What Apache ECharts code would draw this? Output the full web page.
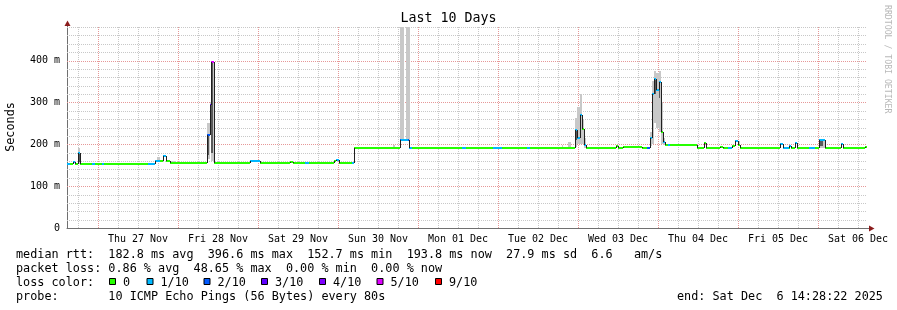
<!DOCTYPE html>
<html><head><meta charset="utf-8">
<script src="https://cdn.jsdelivr.net/npm/echarts@6/dist/echarts.min.js"></script>
<style>html,body{margin:0;padding:0;background:#fff}#c{width:897px;height:310px}</style>
</head><body><div id="c"></div>
<script>
// ---- DATA (time in hours relative to Thu 27 Nov 00:00) ----
const dayLabels = ['Thu 27 Nov','Fri 28 Nov','Sat 29 Nov','Sun 30 Nov','Mon 01 Dec','Tue 02 Dec','Wed 03 Dec','Thu 04 Dec','Fri 05 Dec','Sat 06 Dec'];
const noonHours = [12,36,60,84,108,132,156,180,204,228];
const yTickValues = [0,100,200,300,400];
const yTickLabels = ['0','100 m','200 m','300 m','400 m'];
const X_MIN = -9.3, X_MAX = 230.7, DATA_END = 230.7;

// median rtt segments: start hour, median (ms), lost pings out of 10
const segStart = [-9.3,-8.3,-7.4,-6.8,-5.9,-5.5,-1.7,-0.8,1.3,1.9,
  15.1,17.2,18.7,19.5,20.5,21.7,32.8,33.5,33.9,34.9,
  45.7,48.7,57.7,58.6,62.2,63.4,70.8,71.5,72.3,76.3,
  76.7,90.5,90.8,93.0,93.3,94.3,109.3,110.5,118.6,121.3,
  128.8,129.7,143.2,143.7,144.5,145.3,145.9,146.5,155.5,156.1,
  157.6,163.3,164.8,165.7,166.2,166.9,167.5,168.2,168.9,169.5,
  170.2,171.1,171.7,179.7,181.7,182.4,186.7,187.6,189.1,190.2,
  191.2,192.0,192.7,204.7,205.4,207.2,207.4,208.0,209.0,209.7,
  213.2,215.2,216.4,218.0,222.9,223.5,230.2];
const segValue = [153,153,158,153,180,153,154,153,154,153,
  154,161,159,173,159,155.5,221,293,396,155.5,
  159,155.5,157,155.5,155.5,155.5,160,163,155.5,155.5,
  192,211,211,211,192,192,192,192,192,192,
  192,190.5,233,214,269,236,198,191,196,191,
  193,191,191,214,321,356,329,348,229,205,
  199,199,199,191.5,204,191.5,193,191.5,191.5,196,
  207,199,191.5,201.6,191,191.5,196,191.5,204,191.5,
  191.5,191.5,209,191.5,201.6,191.5,194];
const segLoss = [1,0,1,0,1,0,1,0,1,0,
  1,1,0,1,0,0,2,3,5,0,
  1,0,0,0,1,0,0,1,0,1,
  0,2,1,2,1,0,1,0,1,0,
  1,0,1,1,1,0,1,0,0,0,
  0,0,2,1,1,1,1,1,0,1,
  0,1,0,0,0,0,0,0,1,0,
  1,0,0,1,1,0,1,0,1,0,
  1,0,1,0,1,0,0];

// smoke (ping distribution), outer light band
const smokeLightStart = [-5.9,17.7,21.7,32.8,33.5,33.9,88.6,90.7,92.5,139.3,141.1,143.2,143.7,144.5,145.3,145.9,165.7,166.2,166.9,167.5,168.2,168.9,169.5,192.0,216.4];
const smokeLightEnd   = [-5.5,18.7,23.0,33.5,33.9,34.9,89.2,91.9,93.5,139.6,142.0,143.7,144.5,145.3,145.9,146.5,166.2,166.9,167.5,168.2,168.9,169.5,170.2,192.7,218.0];
const smokeLightLow   = [153,158,155,165,225,160,192,211,211,192,191,193,200,200,200,192,195,200,250,240,230,200,199,195,191];
const smokeLightHigh  = [192,170,160,250,300,400,198,520,520,198,205,262,290,321,260,215,230,350,376,370,376,300,215,207,209];
// smoke, inner dark band
const smokeDarkStart = [-5.9,32.8,33.5,33.9,143.2,144.5,166.2,166.9,168.2,216.4];
const smokeDarkEnd   = [-5.5,33.3,33.8,34.6,143.6,145.0,166.6,167.3,168.6,217.6];
const smokeDarkLow   = [158,175,250,180,210,230,270,320,310,197];
const smokeDarkHigh  = [178,221,293,396,233,269,321,356,348,207];

// legend
const lossLevels = [0,1,2,3,4,5,9];
const lossLabels = ['0','1/10','2/10','3/10','4/10','5/10','9/10'];
const lossColors = ['#26ff00','#00b8ff','#0059ff','#5e00ff','#7e00ff','#dd00ff','#ff0000'];
const statLine1 = 'median rtt:  182.8 ms avg  396.6 ms max  152.7 ms min  193.8 ms now  27.9 ms sd  6.6   am/s';
const statLine2 = 'packet loss: 0.86 % avg  48.65 % max  0.00 % min  0.00 % now';
const probeLine = 'probe:       10 ICMP Echo Pings (56 Bytes) every 80s';
const endLine = 'end: Sat Dec  6 14:28:22 2025';

// ---- build ----
const MONO = 'DejaVu Sans Mono';
const MAJOR = '#e69898', MINOR = '#c8c8c8', AXIS = '#707070', ARROW = '#8b1c1c';
function lossColor(l){ let c = lossColors[0]; for (let i=0;i<lossLevels.length;i++){ if (l>=lossLevels[i]) c = lossColors[i]; } return c; }

const vGridItems = [];
for (let h = -6; h < X_MAX; h += 6) vGridItems.push([h, 0, (h % 24 === 0) ? 1 : 0]);
const hGridItems = [];
for (let v = 20; v <= 480; v += 20) hGridItems.push([X_MIN, v, (v % 100 === 0) ? 1 : 0]);

const medianItems = segStart.map((s,i)=>[s, i+1<segStart.length ? segStart[i+1] : DATA_END, segValue[i], segLoss[i], i>0 ? segValue[i-1] : segValue[i]]);
const lightItems = smokeLightStart.map((s,i)=>[s, smokeLightEnd[i], smokeLightLow[i], smokeLightHigh[i]]);
const darkItems = smokeDarkStart.map((s,i)=>[s, smokeDarkEnd[i], smokeDarkLow[i], smokeDarkHigh[i]]);

function smokeRender(color){
  return function(params, api){
    const cs = params.coordSys;
    const a = api.coord([api.value(0), api.value(3)]);
    const b = api.coord([api.value(1), api.value(2)]);
    const x0 = Math.round(a[0]), x1 = Math.max(Math.round(b[0]), x0+1);
    const top = Math.round(Math.max(a[1], cs.y)), bot = Math.round(b[1]);
    return {type:'rect', shape:{x:x0, y:top, width:x1-x0, height:bot-top}, style:{fill:color}};
  };
}

const chart = echarts.init(document.getElementById('c'));
chart.setOption({
  animation:false,
  backgroundColor:'#ffffff',
  grid:{left:67, top:27, width:800, height:201, containLabel:false},
  xAxis:{type:'value', min:X_MIN, max:X_MAX,
    axisLine:{show:true, onZero:false, lineStyle:{color:AXIS}}, axisTick:{show:false}, splitLine:{show:false},
    axisLabel:{customValues:noonHours, formatter:v=>{const i=noonHours.indexOf(v); return i>=0?dayLabels[i]:'';},
      fontFamily:MONO, fontSize:10, color:'#000', margin:6, hideOverlap:false}},
  yAxis:{type:'value', min:0, max:480, interval:20,
    axisLine:{show:true, onZero:false, lineStyle:{color:AXIS}}, axisTick:{show:false},
    splitLine:{show:false},
    axisLabel:{customValues:yTickValues, formatter:v=>{const i=yTickValues.indexOf(v); return i>=0?yTickLabels[i]:'';},
      fontFamily:MONO, fontSize:10, color:'#000', margin:7}},
  series:[
    {type:'custom', name:'vgrid', z:1, silent:true, clip:false, data:vGridItems, encode:{x:0,y:1},
      renderItem:(params, api)=>{
        const cs = params.coordSys;
        const x = Math.round(api.coord([api.value(0),0])[0]) + 0.5;
        const major = vGridItems[params.dataIndex][2] === 1;
        return {type:'line', shape:{x1:x, y1:cs.y, x2:x, y2:cs.y+cs.height},
          style:{stroke: major ? MAJOR : MINOR, lineWidth:1, lineDash:[1,1]}};
      }},
    {type:'custom', name:'hgrid', z:1, silent:true, clip:false, data:hGridItems, encode:{x:0,y:1},
      renderItem:(params, api)=>{
        const cs = params.coordSys;
        const y = Math.round(api.coord([api.value(0), api.value(1)])[1]) + 0.5;
        const major = hGridItems[params.dataIndex][2] === 1;
        return {type:'line', shape:{x1:cs.x, y1:y, x2:cs.x+cs.width, y2:y},
          style:{stroke: major ? MAJOR : MINOR, lineWidth:1, lineDash:[1,1]}};
      }},
    {type:'custom', name:'smokeLight', z:2, silent:true, data:lightItems, encode:{x:[0,1], y:[2,3]}, renderItem:smokeRender('#c8c8c8')},
    {type:'custom', name:'smokeDark', z:3, silent:true, data:darkItems, encode:{x:[0,1], y:[2,3]}, renderItem:smokeRender('#5a5a5a')},
    {type:'custom', name:'median', z:4, silent:true, data:medianItems, encode:{x:[0,1], y:2},
      renderItem:(params, api)=>{
        const s=api.value(0), e=api.value(1), v=api.value(2), l=api.value(3), pv=api.value(4);
        const p0 = api.coord([s, v]), p1 = api.coord([e, v]), pp = api.coord([s, pv]);
        const x0 = Math.round(p0[0]), x1 = Math.max(Math.round(p1[0]), x0+1);
        const y = Math.round(p0[1]), yp = Math.round(pp[1]);
        const children = [];
        children.push({type:'line', shape:{x1:x0, y1:y, x2:x1, y2:y}, style:{stroke:lossColor(l), lineWidth:2}});
        if (yp !== y) children.push({type:'line', shape:{x1:x0+0.5, y1:yp, x2:x0+0.5, y2:y}, style:{stroke:'#202020', lineWidth:1}});
        return {type:'group', children};
      }}
  ],
  graphic:[
    {type:'text', left:'center', top:12, style:{text:'Last 10 Days', font:'13.3px "DejaVu Sans Mono"', fill:'#000'}},
    {type:'text', x:11, y:127, rotation:Math.PI/2, style:{text:'Seconds', font:'11.8px "DejaVu Sans Mono"', fill:'#000', align:'center', verticalAlign:'middle'}},
    {type:'text', x:887, y:5, rotation:-Math.PI/2, style:{text:'RRDTOOL / TOBI OETIKER', font:'8.2px "DejaVu Sans Mono"', fill:'#b8b8b8', align:'left', verticalAlign:'middle'}},
    {type:'line', shape:{x1:67.5, y1:27, x2:67.5, y2:23}, style:{stroke:AXIS, lineWidth:1}},
    {type:'polygon', shape:{points:[[64.5,26],[70.5,26],[67.5,20.5]]}, style:{fill:ARROW}},
    {type:'line', shape:{x1:867, y1:228.5, x2:870, y2:228.5}, style:{stroke:AXIS, lineWidth:1}},
    {type:'polygon', shape:{points:[[869,225.5],[869,231.5],[874.5,228.5]]}, style:{fill:ARROW}},
    {type:'text', x:16, y:255, style:{text:statLine1, font:'11.8px "DejaVu Sans Mono"', fill:'#000', verticalAlign:'middle'}},
    {type:'text', x:16, y:268.5, style:{text:statLine2, font:'11.8px "DejaVu Sans Mono"', fill:'#000', verticalAlign:'middle'}},
    {type:'text', x:16, y:282.5, style:{text:'loss color:', font:'11.8px "DejaVu Sans Mono"', fill:'#000', verticalAlign:'middle'}},
    {type:'text', x:16, y:296.5, style:{text:probeLine, font:'11.8px "DejaVu Sans Mono"', fill:'#000', verticalAlign:'middle'}},
    {type:'text', x:677, y:296.5, style:{text:endLine, font:'11.8px "DejaVu Sans Mono"', fill:'#000', verticalAlign:'middle'}}
  ].concat((function(){
    const boxX = [109,146.5,203.5,261,319,376.5,435];
    const out = [];
    lossLabels.forEach((lab,i)=>{
      out.push({type:'rect', shape:{x:boxX[i]+0.5, y:278.5, width:6, height:6}, style:{fill:lossColors[i], stroke:'#000', lineWidth:1}});
      out.push({type:'text', x:boxX[i]+14, y:282.5, style:{text:lab, font:'11.8px "DejaVu Sans Mono"', fill:'#000', verticalAlign:'middle'}});
    });
    return out;
  })())
});
</script></body></html>
